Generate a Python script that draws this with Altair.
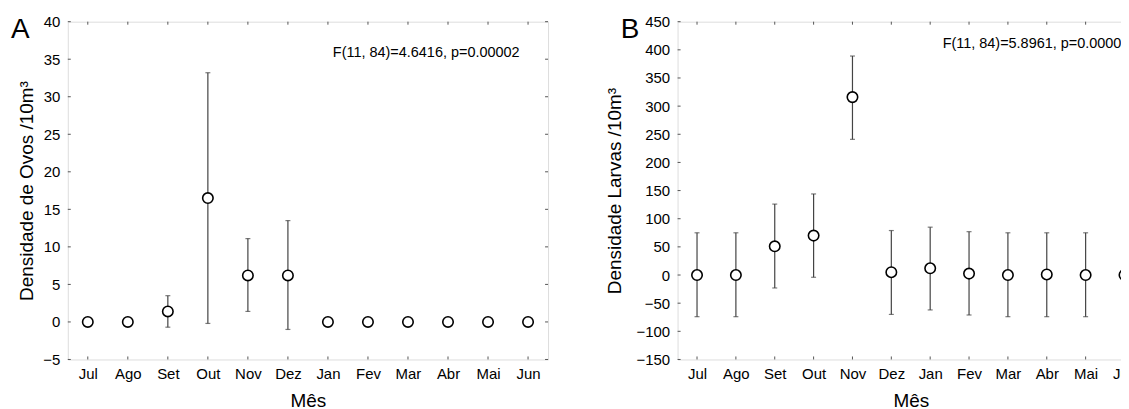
import altair as alt
import pandas as pd

months = ["Jul", "Ago", "Set", "Out", "Nov", "Dez", "Jan", "Fev", "Mar", "Abr", "Mai", "Jun"]

ovos_mean = [0, 0, 1.4, 16.5, 6.2, 6.2, 0, 0, 0, 0, 0, 0]
ovos_upper = [None, None, 3.5, 33.2, 11.1, 13.5, None, None, None, None, None, None]
ovos_lower = [None, None, -0.7, -0.2, 1.4, -1.0, None, None, None, None, None, None]

larvas_mean = [0, 0, 51, 70, 316, 5, 12, 2.5, 0, 1, 0, 0]
larvas_upper = [75, 75, 126, 144, 389, 79, 85, 77, 75, 75, 75, 75]
larvas_lower = [-74, -74, -23, -4, 241, -70, -62, -71, -74, -74, -74, -74]

yticks_a = [-5, 0, 5, 10, 15, 20, 25, 30, 35, 40]
yticks_b = [-150, -100, -50, 0, 50, 100, 150, 200, 250, 300, 350, 400, 450]

stat_a = "F(11, 84)=4.6416, p=0.00002"
stat_b = "F(11, 84)=5.8961, p=0.00000"

FONT = "Liberation Sans"
W_A, W_B, H = 482, 468, 339
TICK = "#555555"


def panel(mean, upper, lower, yticks, ytitle, stat, letter, width, title_pad, stat_y):
    df = pd.DataFrame({"month": months, "mean": mean})
    eb = pd.DataFrame({"month": months, "upper": upper, "lower": lower}).dropna()
    xt = pd.DataFrame({"month": months})
    yt = pd.DataFrame({"val": yticks})
    dom = [yticks[0], yticks[-1]]

    xscale = alt.Scale(domain=months, type="point", padding=0.5)
    yscale = alt.Scale(domain=dom, nice=False, zero=False)

    xaxis = alt.Axis(title="Mês", labelFont=FONT, titleFont=FONT, labelFontSize=15,
                     titleFontSize=19, labelAngle=0, ticks=False, domain=False,
                     labelPadding=7, titlePadding=10, labelColor="black",
                     titleColor="black", titleFontWeight="normal")
    yaxis = alt.Axis(title=ytitle, values=yticks, labelFont=FONT, titleFont=FONT,
                     labelFontSize=15, titleFontSize=19, ticks=False, domain=False,
                     grid=False, labelPadding=8, titlePadding=title_pad,
                     labelColor="black", titleColor="black", titleFontWeight="normal")

    X = alt.X("month:N", scale=xscale, axis=xaxis, sort=months)

    def Y(f):
        return alt.Y(f, scale=yscale, axis=yaxis)

    rules = alt.Chart(eb).mark_rule(color="#444444", strokeWidth=1.2).encode(
        x=X, y=Y("lower:Q"), y2="upper:Q",
    )
    cap_hi = alt.Chart(eb).mark_tick(color="#444444", size=5, thickness=1.2).encode(
        x=X, y=Y("upper:Q"),
    )
    cap_lo = alt.Chart(eb).mark_tick(color="#444444", size=5, thickness=1.2).encode(
        x=X, y=Y("lower:Q"),
    )
    pts = alt.Chart(df).mark_circle(fill="white", stroke="black", strokeWidth=1.6,
                                    size=110, opacity=1).encode(
        x=X, y=Y("mean:Q"),
    )
    xt_bot = alt.Chart(xt).mark_rule(color=TICK, strokeWidth=1).encode(
        x=X, y=alt.value(H), y2=alt.value(H - 3),
    )
    xt_top = alt.Chart(xt).mark_rule(color=TICK, strokeWidth=1).encode(
        x=X, y=alt.value(0), y2=alt.value(3),
    )
    yt_left = alt.Chart(yt).mark_rule(color=TICK, strokeWidth=1).encode(
        y=Y("val:Q"), x=alt.value(0), x2=alt.value(3),
    )
    yt_right = alt.Chart(yt).mark_rule(color=TICK, strokeWidth=1).encode(
        y=Y("val:Q"), x=alt.value(width - 3), x2=alt.value(width),
    )
    st = alt.Chart(pd.DataFrame({"t": [stat]})).mark_text(
        font=FONT, fontSize=14.5, align="left", baseline="middle", color="black"
    ).encode(text="t:N", x=alt.value(266), y=alt.value(stat_y))
    lt = alt.Chart(pd.DataFrame({"t": [letter]})).mark_text(
        font=FONT, fontSize=28, align="left", baseline="middle", color="black"
    ).encode(text="t:N", x=alt.value(-57), y=alt.value(8))

    return alt.layer(rules, cap_hi, cap_lo, pts, xt_bot, xt_top, yt_left, yt_right, st, lt).properties(
        width=width, height=H
    )


pa = panel(ovos_mean, ovos_upper, ovos_lower, yticks_a, "Densidade de Ovos /10m³",
           stat_a, "A", W_A, 6, 31)
pb = panel(larvas_mean, larvas_upper, larvas_lower, yticks_b, "Densidade Larvas /10m³",
           stat_b, "B", W_B, 12, 22)

chart = alt.hconcat(pa, pb, spacing=55).resolve_scale(y="independent").properties(
    padding={"left": 2, "top": 5, "right": -24, "bottom": 4}
).configure_view(stroke="#666666", strokeWidth=1.2).configure(background="white")

chart.save("out.html", embed_options={"renderer": "svg", "actions": False})
